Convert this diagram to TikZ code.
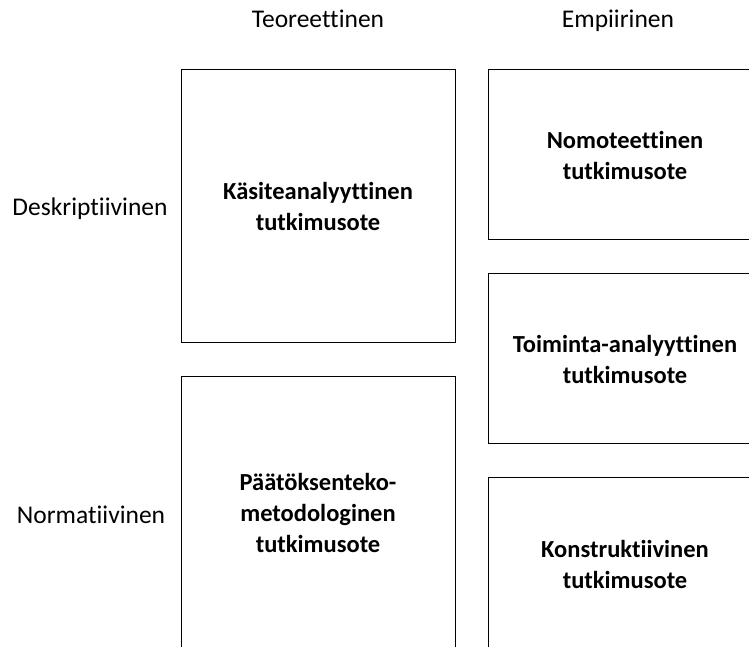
\documentclass[tikz,border=0pt]{standalone}
\usepackage{fontspec}
\setmainfont{Carlito}[Ligatures=NoCommon]
\begin{document}
\begin{tikzpicture}[x=1pt,y=-1pt,
  cell/.style={draw=black,line width=1pt},
  celltext/.style={font=\fontsize{24.5}{31}\selectfont\bfseries,align=center},
  axislabel/.style={font=\fontsize{25.5}{30}\selectfont,anchor=base}]
\useasboundingbox (0,0) rectangle (749,646);
\clip (0,0) rectangle (749,646);
% column headers
\node[axislabel] (teor) at (318,27) {Teoreettinen};
\node[axislabel] (empi) at (618,27) {Empiirinen};
% row headers
\node[axislabel] (desk) at (90,215) {Deskriptiivinen};
\node[axislabel] (norm) at (91,523) {Normatiivinen};
% theoretical column
\draw[cell] (181,69) rectangle (455,342);
\node[celltext] (kasite) at (318,206) {Käsiteanalyyttinen\\tutkimusote};
\draw[cell] (181,376) rectangle (455,650);
\node[celltext] (paatos) at (318,513) {Päätöksenteko-\\metodologinen\\tutkimusote};
% empirical column
\draw[cell] (488,69) rectangle (762,239);
\node[celltext] (nomo) at (625,155) {Nomoteettinen\\tutkimusote};
\draw[cell] (488,273) rectangle (762,443);
\node[celltext] (toim) at (625,359) {Toiminta-analyyttinen\\tutkimusote};
\draw[cell] (488,477) rectangle (762,651);
\node[celltext] (kons) at (625,564) {Konstruktiivinen\\tutkimusote};
\end{tikzpicture}
\end{document}
